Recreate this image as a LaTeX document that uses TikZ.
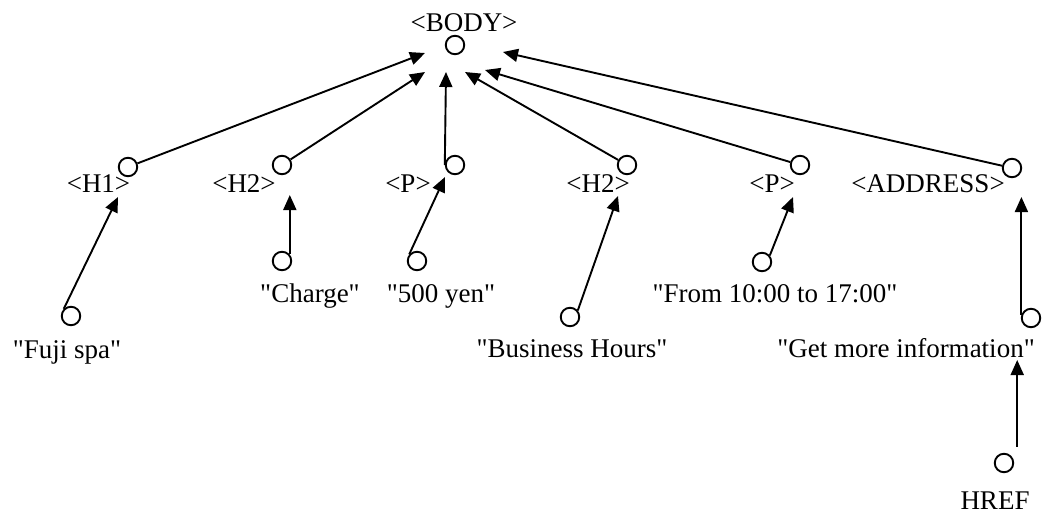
\documentclass[tikz,border=0pt]{standalone}
\usepackage{fontspec}
\setmainfont{Liberation Serif}[Ligatures=TeXOff]
\usetikzlibrary{arrows.meta}
\begin{document}
\begin{tikzpicture}[x=1pt,y=-1pt,
  every node/.style={font=\fontsize{27}{30}\selectfont},
  dot/.style={circle,draw,line width=1.9pt,minimum size=18.5pt,inner sep=0pt},
  lbl/.style={anchor=base,inner sep=0pt},
  link/.style={line width=1.9pt},
  arr/.style={link,-{Triangle[length=15pt,width=13pt]}}]
\useasboundingbox (0,0) rectangle (1044,515);

% root element
\node[lbl] (body) at (464,31.5) {<BODY>};
\node[dot] (bodyc) at (455,45) {};

% arrow tips around the root
\coordinate (t1) at (425,53);
\coordinate (t2) at (425,72);
\coordinate (t3) at (446,72);
\coordinate (t4) at (465,72);
\coordinate (t5) at (485,70);
\coordinate (t6) at (503,52);

% second level elements
\node[lbl] (h1)   at (98.5,192) {<H1>};
\node[lbl] (h2)   at (244,192)  {<H2>};
\node[lbl] (p)    at (408,192)  {<P>};
\node[lbl] (h2b)  at (598,192)  {<H2>};
\node[lbl] (p2)   at (772,192)  {<P>};
\node[lbl] (addr) at (928,192)  {<ADDRESS>};

\node[dot] (h1c)   at (128,167)  {};
\node[dot] (h2c)   at (282,165)  {};
\node[dot] (pc)    at (455,165)  {};
\node[dot] (h2bc)  at (627,165)  {};
\node[dot] (p2c)   at (800,165)  {};
\node[dot] (addrc) at (1012,168) {};

\draw[arr] (h1c) -- (t1);
\draw[arr] (h2c) -- (t2);
\draw[arr] (pc.west) -- (t3);
\draw[arr] (h2bc) -- (t4);
\draw[arr] (p2c) -- (t5);
\draw[arr] (addrc) -- (t6);

% text contents
\node[lbl] (fuji)   at (67,358)  {"Fuji spa"};
\node[lbl] (charge) at (310,302) {"Charge"};
\node[lbl] (yen)    at (441,302) {"500 yen"};
\node[lbl] (bus)    at (572,357) {"Business Hours"};
\node[lbl] (from)   at (775,302) {"From 10:00 to 17:00"};
\node[lbl] (get)    at (906,357) {"Get more information"};
\node[lbl] (href)   at (995,509) {HREF};

\node[dot] (fujic)   at (71,316)   {};
\node[dot] (chargec) at (282,261)  {};
\node[dot] (yenc)    at (417,261)  {};
\node[dot] (busc)    at (570,317)  {};
\node[dot] (fromc)   at (762,262)  {};
\node[dot] (getc)    at (1031,318) {};
\node[dot] (hrefc)   at (1004,463) {};

% tips below the second level
\coordinate (t7)  at (118,197);
\coordinate (t8)  at (291,195);
\coordinate (t9)  at (445,177);
\coordinate (t10) at (618,196);
\coordinate (t11) at (793,197);
\coordinate (t12) at (1020,197);
\coordinate (t13) at (1018,360);

\draw[arr] (fujic.135) -- (t7);
\draw[arr] (chargec.40) -- (chargec.40 |- t8);
\draw[arr] (yenc.140) -- (t9);
\draw[arr] (busc.40) -- (t10);
\draw[arr] (fromc.40) -- (t11);
\draw[arr] (getc.160) -- (getc.160 |- t12);
\coordinate (s13) at ([xshift=6pt,yshift=9pt]hrefc.north east);
\draw[arr] (s13) -- (s13 |- t13);
\end{tikzpicture}
\end{document}
